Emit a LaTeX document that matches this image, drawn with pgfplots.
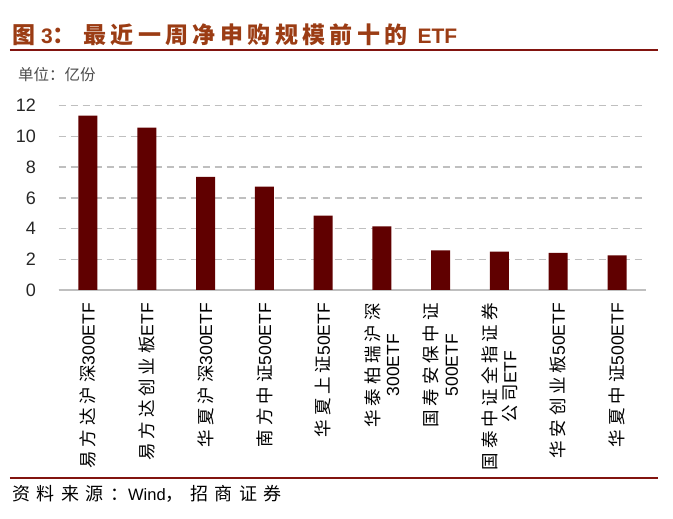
\documentclass[border=0pt]{standalone}
\usepackage{fontspec}
\setmainfont{Liberation Sans}
\newfontfamily\cjk{Noto Sans CJK SC}
\newfontfamily\cjkt[LetterSpace=19]{Noto Sans CJK SC}
\newfontfamily\cjkl[LetterSpace=22]{Noto Sans CJK SC}
\newfontfamily\cjkf[LetterSpace=36]{Noto Sans CJK SC}
\usepackage{pgfplots}
\pgfplotsset{compat=1.18}
\definecolor{barc}{RGB}{96,0,0}
\definecolor{titc}{RGB}{155,60,20}
\definecolor{linec}{RGB}{130,20,15}
\begin{document}
\begin{tikzpicture}[x=1pt,y=1pt]
\begin{axis}[
  name=ax,
  scale only axis, width=587.8pt, height=184.3pt,
  xmin=-0.5, xmax=9.5, ymin=0, ymax=12,
  axis x line*=bottom, axis y line*=left,
  y axis line style={draw=none},
  x axis line style={draw=black!25, line width=1.5pt},
  major tick length=0pt,
  ytick={0,2,...,12},
  ymajorgrids, grid style={draw=black!25, line width=1.5pt, dash pattern=on 7pt off 5pt},
  yticklabel style={font=\fontsize{18}{18}\selectfont, /pgf/number format/assume math mode=true, inner sep=0pt, xshift=-22.5pt, text=black!85},
  xtick={0,...,9},
  xticklabels={
    {\cjkl 易方达沪深}300ETF,
    {\cjkl 易方达创业板}ETF,
    {\cjkl 华夏沪深}300ETF,
    {\cjkl 南方中证}500ETF,
    {\cjkl 华夏上证}50ETF,
    {\cjkl 华泰柏瑞沪深}\\300ETF,
    {\cjkl 国寿安保中证}\\500ETF,
    {\cjkl 国泰中证全指证券}\\{\cjkl 公司}ETF,
    {\cjkl 华安创业板}50ETF,
    {\cjkl 华夏中证}500ETF},
  xticklabel style={rotate=90, anchor=east, align=center, inner sep=0pt, font=\fontsize{17.5}{20}\selectfont, text=black},
  xticklabel shift=13pt,
]
\addplot[ybar, bar width=19pt, fill=barc, draw=none] coordinates {
(0,11.36) (1,10.57) (2,7.36) (3,6.73) (4,4.84) (5,4.15) (6,2.58) (7,2.50) (8,2.41) (9,2.26)};
\coordinate (O) at (rel axis cs:0,0);
\end{axis}
\begin{scope}[shift={(O)}]
\node[anchor=base west, text=titc, font=\fontsize{21}{24}\selectfont\bfseries, inner sep=0] at (-46.6,246) {{\cjkt\fontsize{23}{24}\selectfont\bfseries 图}\hspace{6pt}3{\cjkt\fontsize{23}{24}\selectfont\bfseries ：}\hspace{7.6pt}{\cjkt\fontsize{23}{24}\selectfont\bfseries 最近一周净申购规模前十的}\hspace{10pt}ETF};
\draw[linec, line width=2] (-48.6,239.5) -- (599.4,239.5);
\node[anchor=west, text=black!70, font=\fontsize{15.5}{17}\selectfont, inner sep=0] at (-40.6,215) {\cjk 单位：亿份};
\draw[linec, line width=2] (-48.6,-188) -- (599.4,-188);
\node[anchor=west, text=black, font=\fontsize{16.5}{18}\selectfont, inner sep=0] at (-46.6,-204) {{\cjkf\fontsize{18}{20}\selectfont 资料来源：}Wind{\cjkf\fontsize{18}{20}\selectfont ，招商证券}};
\end{scope}
\pgfresetboundingbox
\path[use as bounding box, shift={(O)}] (-58.6,-229) rectangle (614.4,290);
\end{tikzpicture}
\end{document}
